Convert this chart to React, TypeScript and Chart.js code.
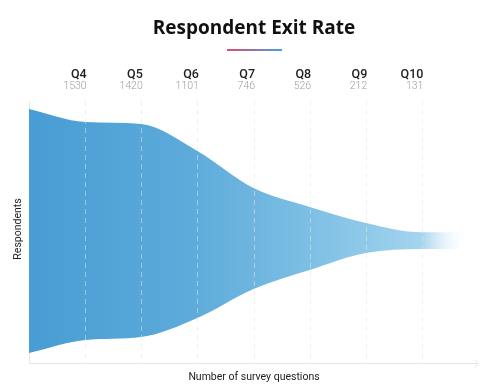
import React, { useEffect, useRef } from "react";
import { Chart, registerables } from "chart.js";

Chart.register(...registerables);

const categories = ["Q3", "Q4", "Q5", "Q6", "Q7", "Q8", "Q9", "Q10", "Q11"];
const labeledQuestions = ["Q4", "Q5", "Q6", "Q7", "Q8", "Q9", "Q10"];
const respondents = [1530, 1420, 1101, 746, 526, 212, 131];
const upperEdge = [1737, 1554, 1525, 1144, 621, 353, 127, -4, -4];
const lowerEdge = [-1709, -1525, -1483, -1215, -805, -537, -297, -240, -240];

const titleText = "Respondent Exit Rate";
const yTitle = "Respondents";
const xTitle = "Number of survey questions";

const decorPlugin = {
  id: "decor",
  beforeDraw(chart: any) {
    const { ctx, chartArea: a } = chart;
    ctx.save();
    ctx.fillStyle = "#111";
    ctx.font = "bold 19px 'Open Sans'";
    ctx.textAlign = "center";
    ctx.textBaseline = "alphabetic";
    ctx.fillText(titleText, 254, 34);
    const g = ctx.createLinearGradient(227, 0, 282, 0);
    g.addColorStop(0, "#e04a6a");
    g.addColorStop(1, "#4a9fe0");
    ctx.fillStyle = g;
    ctx.fillRect(227, 49, 55, 2);
    ctx.strokeStyle = "#e6e6e6";
    ctx.lineWidth = 1;
    ctx.beginPath();
    ctx.moveTo(a.left + 0.5, a.top);
    ctx.lineTo(a.left + 0.5, a.bottom + 0.5);
    ctx.lineTo(a.right, a.bottom + 0.5);
    ctx.stroke();
    ctx.beginPath();
    ctx.moveTo(a.right - 3, a.bottom - 3.5);
    ctx.lineTo(a.right, a.bottom + 0.5);
    ctx.lineTo(a.right - 3, a.bottom + 4.5);
    ctx.stroke();
    ctx.restore();
  },
  afterDatasetsDraw(chart: any) {
    const { ctx, chartArea: a, scales } = chart;
    const xs = scales.x;
    ctx.save();
    ctx.strokeStyle = "rgba(228,228,228,0.55)";
    ctx.lineWidth = 1;
    ctx.setLineDash([5, 4]);
    labeledQuestions.forEach((q) => {
      const x = Math.round(xs.getPixelForValue(categories.indexOf(q))) + 0.5;
      ctx.beginPath();
      ctx.moveTo(x, a.top);
      ctx.lineTo(x, a.bottom);
      ctx.stroke();
    });
    ctx.setLineDash([]);
    ctx.textAlign = "right";
    ctx.textBaseline = "alphabetic";
    labeledQuestions.forEach((q, i) => {
      const x = xs.getPixelForValue(categories.indexOf(q)) + 1.5;
      ctx.fillStyle = "#222";
      ctx.font = "500 12.5px Roboto";
      ctx.fillText(q, x, 78);
      ctx.fillStyle = "#9e9e9e";
      ctx.font = "300 10.5px Roboto";
      ctx.fillText(String(respondents[i]), x, 89);
    });
    ctx.fillStyle = "#222";
    ctx.font = "10.5px Roboto";
    ctx.textAlign = "center";
    ctx.textBaseline = "middle";
    ctx.fillText(xTitle, 254, 377);
    ctx.save();
    ctx.translate(18, 229);
    ctx.rotate(-Math.PI / 2);
    ctx.fillText(yTitle, 0, 0);
    ctx.restore();
    ctx.restore();
  },
};

export default function App() {
  const ref = useRef<HTMLCanvasElement | null>(null);
  useEffect(() => {
    if (!ref.current) return;
    const chart = new Chart(ref.current, {
      type: "line",
      data: {
        labels: categories,
        datasets: [
          {
            data: upperEdge,
            fill: "+1",
            borderWidth: 0,
            pointRadius: 0,
            cubicInterpolationMode: "monotone",
            backgroundColor: (c: any) => {
              const ch = c.chart;
              const a = ch.chartArea;
              if (!a) return "rgb(74,159,212)";
              const g = ch.ctx.createLinearGradient(a.left, 0, a.right, 0);
              g.addColorStop(0, "rgb(72,157,212)");
              g.addColorStop(0.35, "rgb(92,170,218)");
              g.addColorStop(0.6, "rgb(122,189,227)");
              g.addColorStop(0.78, "rgb(148,204,234)");
              g.addColorStop(0.875, "rgb(165,212,238)");
              g.addColorStop(0.98, "rgba(255,255,255,0)");
              g.addColorStop(1, "rgba(255,255,255,0)");
              return g;
            },
          } as any,
          {
            data: lowerEdge,
            fill: false,
            borderWidth: 0,
            pointRadius: 0,
            cubicInterpolationMode: "monotone",
          } as any,
        ],
      },
      options: {
        animation: false,
        responsive: false,
        devicePixelRatio: 1,
        layout: { padding: { left: 29, right: 21, top: 101, bottom: 28 } },
        plugins: { legend: { display: false }, tooltip: { enabled: false }, title: { display: false } },
        scales: {
          x: { type: "category", offset: false, display: false },
          y: { type: "linear", min: -1850, max: 1850, display: false },
        },
      },
      plugins: [decorPlugin],
    });
    return () => chart.destroy();
  }, []);
  return (
    <div style={{ position: "absolute", left: 0, top: 0, width: 499, height: 391 }}>
      <canvas ref={ref} width={499} height={391} />
    </div>
  );
}
